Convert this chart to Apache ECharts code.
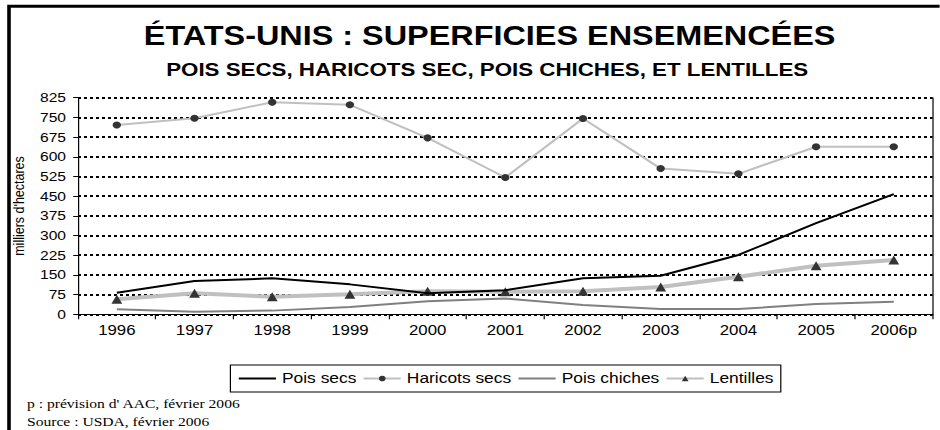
<!DOCTYPE html>
<html>
<head>
<meta charset="utf-8">
<script src="https://cdn.jsdelivr.net/npm/echarts@6/dist/echarts.min.js"></script>
<style>
html,body{margin:0;padding:0;background:#fff;}
#wrap{width:940px;height:430px;overflow:hidden;position:relative;background:#fff;}
#c{width:783.33px;height:430px;transform:scaleX(1.2);transform-origin:0 0;}
</style>
</head>
<body>
<div id="wrap"><div id="c"></div></div>
<script>
// ---- data ----
var years = ['1996','1997','1998','1999','2000','2001','2002','2003','2004','2005','2006p'];
var poisSecs     = [82, 127, 137, 114, 80, 92, 137, 147, 226, 347, 458];
var haricotsSecs = [721, 747, 808, 798, 672, 521, 746, 555, 535, 638, 638];
var poisChiches  = [19, 10, 14, 28, 50, 60, 35, 20, 20, 39, 48];
var lentilles    = [57, 80, 67, 76, 88, 86, 88, 104, 143, 185, 207];
var seriesNames  = ['Pois secs', 'Haricots secs', 'Pois chiches', 'Lentilles'];
var yMin = 0, yMax = 825, yStep = 75;
var titleText = 'ÉTATS-UNIS : SUPERFICIES ENSEMENCÉES';
var subtitleText = 'POIS SECS, HARICOTS SEC, POIS CHICHES, ET LENTILLES';
var yAxisName = "milliers d'hectares";
var note1 = "p : prévision d' AAC, février 2006";
var note2 = 'Source : USDA, février 2006';

var SANS = '"Liberation Sans", Arial, sans-serif';
var SERIF = '"Liberation Serif", "Times New Roman", serif';

var chart = echarts.init(document.getElementById('c'), null, {renderer: 'svg'});
var option = {
  animation: false,
  backgroundColor: '#fff',
  title: [
    {text: titleText, left: 408, top: 22, textAlign: 'center', padding: 0,
     textStyle: {fontFamily: SANS, fontWeight: 'bold', fontSize: 27, color: '#000'}},
    {text: subtitleText, left: 406, top: 60, textAlign: 'center', padding: 0,
     textStyle: {fontFamily: SANS, fontWeight: 'bold', fontSize: 18.6, color: '#000'}}
  ],
  graphic: [
    {type: 'rect', shape: {x: 7.5, y: 6.3, width: 900, height: 600},
     style: {fill: 'none', stroke: '#000', lineWidth: 3}, silent: true},
    {type: 'text', left: 22.5, top: 397,
     style: {text: note1, font: '13px ' + SERIF, fill: '#000'}},
    {type: 'text', left: 22.5, top: 415,
     style: {text: note2, font: '13px ' + SERIF, fill: '#000'}}
  ],
  legend: {
    data: [
      {name: seriesNames[0], itemStyle: {opacity: 0}},
      {name: seriesNames[1]},
      {name: seriesNames[2], itemStyle: {opacity: 0}},
      {name: seriesNames[3]}
    ],
    left: 192, top: 365,
    itemWidth: 31, itemHeight: 7, itemGap: 5,
    padding: [6, 6],
    borderColor: '#000', borderWidth: 1,
    textStyle: {fontFamily: SANS, fontSize: 14.5, color: '#000'}
  },
  grid: {left: 65, right: 5.8, top: 97.7, bottom: 115.7, containLabel: false},
  xAxis: {
    type: 'category', data: years, boundaryGap: true,
    axisLine: {show: true, lineStyle: {color: '#000', width: 1}},
    axisTick: {show: true, length: 5, lineStyle: {color: '#000'}},
    axisLabel: {fontFamily: SANS, fontSize: 14, color: '#000', margin: 9, interval: 0},
    splitLine: {show: false}
  },
  yAxis: [{
    type: 'value', min: yMin, max: yMax, interval: yStep,
    name: yAxisName, nameLocation: 'middle', nameRotate: 90, nameGap: 34,
    nameTextStyle: {fontFamily: SANS, fontSize: 12.5, color: '#000'},
    axisLine: {show: true, lineStyle: {color: '#000', width: 1}},
    axisTick: {show: true, length: 4, lineStyle: {color: '#000'}},
    axisLabel: {fontFamily: SANS, fontSize: 13, color: '#000', margin: 10},
    splitLine: {show: true, lineStyle: {color: '#000', width: 1.8, type: [2.5, 2.5]}}
  }, {
    type: 'value', position: 'right', min: yMin, max: yMax, interval: yStep,
    axisLine: {show: true, lineStyle: {color: '#000', width: 1}},
    axisTick: {show: false}, axisLabel: {show: false}, splitLine: {show: false}
  }],
  series: [
    {name: seriesNames[0], type: 'line', data: poisSecs, symbol: 'none',
     lineStyle: {color: '#000', width: 2}, itemStyle: {color: '#000'}, z: 4},
    {name: seriesNames[1], type: 'line', data: haricotsSecs, symbol: 'circle', symbolSize: 7,
     lineStyle: {color: '#c0c0c0', width: 2}, itemStyle: {color: '#333'}, z: 3},
    {name: seriesNames[2], type: 'line', data: poisChiches, symbol: 'none',
     lineStyle: {color: '#808080', width: 2}, itemStyle: {color: '#808080'}, z: 2},
    {name: seriesNames[3], type: 'line', data: lentilles, symbol: 'triangle', symbolSize: 9,
     lineStyle: {color: '#c0c0c0', width: 4}, itemStyle: {color: '#333'}, z: 3}
  ]
};
chart.setOption(option);
</script>
</body>
</html>
